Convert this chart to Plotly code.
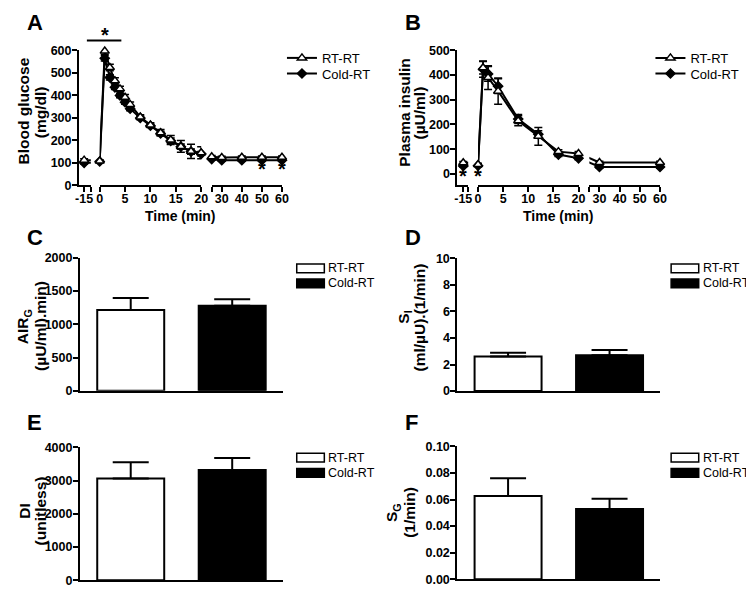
import plotly.graph_objects as go

W, H = 754, 593
OFF = 8                     # page margin of the html body
FW, FH = W - OFF, H - OFF   # figure size that fits in the window
FONT = "Liberation Sans, Arial, sans-serif"


def px(x):
    """Horizontal window pixel -> paper fraction."""
    return (x - OFF) / FW


def py(y):
    """Vertical window pixel (from top) -> paper fraction."""
    return 1 - (y - OFF) / FH


# Panel A: blood glucose (mg/dl)
glu_time = [-15, 0, 1, 2, 3, 4, 5, 6, 8, 10, 12, 14, 16, 18, 20, 25, 30, 40, 50, 60]
glu_rt = [112, 108, 597, 524, 465, 429, 392, 360, 304, 268, 234, 202, 173, 151, 145, 127, 124, 125, 125, 125]
glu_rt_err = [6, 5, 14, 14, 13, 12, 12, 11, 10, 10, 14, 20, 26, 32, 27, 6, 5, 5, 5, 5]
glu_cold = [100, 106, 565, 480, 436, 400, 370, 341, 300, 265, 231, 198, 172, 150, 140, 117, 112, 112, 112, 112]
glu_cold_err = [5, 5, 12, 12, 10, 10, 9, 9, 8, 8, 10, 12, 12, 12, 10, 5, 5, 5, 5, 5]

# Panel B: plasma insulin (uU/ml)
ins_time = [-15, 0, 1, 2, 4, 8, 12, 16, 20, 30, 60]
ins_rt = [45, 38, 430, 390, 335, 215, 152, 90, 82, 46, 46]
ins_rt_err = [5, 5, 25, 48, 53, 20, 36, 8, 8, 5, 5]
ins_cold = [32, 33, 424, 405, 355, 222, 160, 78, 63, 28, 28]
ins_cold_err = [4, 5, 33, 30, 30, 18, 15, 8, 6, 4, 4]

# Panels C-F: minimal model parameters
groups = ["RT-RT", "Cold-RT"]
air_g = [1215, 1280]
air_g_err = [180, 95]
s_i = [2.6, 2.69]
s_i_err = [0.29, 0.4]
di = [3066, 3322]
di_err = [490, 355]
s_g = [0.0627, 0.0529]
s_g_err = [0.0133, 0.0076]

fig = go.Figure()

axis_common = dict(
    showline=True, linecolor="black", linewidth=2, showgrid=False, zeroline=False,
    ticks="outside", ticklen=5, tickwidth=2, tickcolor="black",
    tickfont=dict(family=FONT, size=12.5, color="black", weight="bold"),
)

# broken time axes: (axis id, range, pixel domain, labelled ticks, end caps)
time_panels = [
    dict(y="y", legends=("legend", "legend2"), legx=282, legy=(52, 68), segs=[
        ("x", [-16, -13.7], [76, 88], [-15], [-13.7]),
        ("x2", [0, 20], [97, 200], [0, 5, 10, 15, 20], []),
        ("x3", [25, 60], [210.7, 282], [30, 40, 50, 60], [25]),
    ], series=[
        ("Cold-RT", glu_time, glu_cold, glu_cold_err, "diamond", "black", 7),
        ("RT-RT", glu_time, glu_rt, glu_rt_err, "triangle-up", "white", 8),
    ]),
    dict(y="y2", legends=("legend3", "legend4"), legx=656, legy=(52, 68), segs=[
        ("x4", [-16.2, -14], [460, 471], [-15], [-14]),
        ("x5", [0, 20], [481, 583], [0, 5, 10, 15, 20], []),
        ("x6", [25, 60], [594, 665.7], [30, 40, 50, 60], [25]),
    ], series=[
        ("Cold-RT", ins_time, ins_cold, ins_cold_err, "diamond", "black", 7),
        ("RT-RT", ins_time, ins_rt, ins_rt_err, "triangle-up", "white", 8),
    ]),
]


def seg_of(t, segs):
    for i, s in enumerate(segs):
        if s[1][0] <= t <= s[1][1]:
            return i
    return None


layout = dict(
    width=FW, height=FH, margin=dict(l=0, r=0, t=0, b=0),
    paper_bgcolor="white", plot_bgcolor="white", barmode="overlay",
    font=dict(family=FONT, color="black"),
)
leg_style = dict(bgcolor="rgba(0,0,0,0)", font=dict(family=FONT, size=13, color="black"),
                 xanchor="left", yanchor="middle", borderwidth=0, itemwidth=30)

for panel in time_panels:
    segs = panel["segs"]
    yname = panel["y"]
    for name, t, v, e, sym, fill, size in panel["series"]:
        leg = panel["legends"][0] if name == "RT-RT" else panel["legends"][1]
        # lines crossing an axis break: drawn in both segments, clipped by the axes
        for i in range(len(t) - 1):
            a, b = seg_of(t[i], segs), seg_of(t[i + 1], segs)
            if a != b:
                for k in (a, b):
                    fig.add_trace(go.Scatter(
                        x=[t[i], t[i + 1]], y=[v[i], v[i + 1]], mode="lines",
                        line=dict(color="black", width=2), xaxis=segs[k][0], yaxis=yname,
                        showlegend=False, hoverinfo="skip"))
        for k, seg in enumerate(segs):
            idx = [i for i in range(len(t)) if seg_of(t[i], segs) == k]
            fig.add_trace(go.Scatter(
                x=[t[i] for i in idx], y=[v[i] for i in idx], mode="lines+markers",
                name=name, legend=leg, showlegend=(k == 1),
                line=dict(color="black", width=2),
                marker=dict(symbol=sym, size=size, color=fill, line=dict(color="black", width=1.5)),
                error_y=dict(type="data", array=[e[i] for i in idx], color="black", thickness=1.5, width=4),
                cliponaxis=False, xaxis=seg[0], yaxis=yname))
    layout[panel["legends"][0]] = dict(leg_style, x=px(panel["legx"]), y=py(panel["legy"][0]))
    layout[panel["legends"][1]] = dict(leg_style, x=px(panel["legx"]), y=py(panel["legy"][1]))

for panel, ydom, yrange, ytick in [
    (time_panels[0], [182.5, 44.3], [0, 600], list(range(0, 601, 100))),
    (time_panels[1], [182.1, 44.3], [-45, 500], list(range(0, 501, 100))),
]:
    segs = panel["segs"]
    yid = "yaxis" + panel["y"][1:]
    layout[yid] = dict(axis_common, domain=[py(ydom[0]), py(ydom[1])], range=yrange,
                       tickvals=ytick, anchor=segs[0][0], ticklabelstandoff=-2)
    for xname, xr, xdom, tv, caps in segs:
        layout["xaxis" + xname[1:]] = dict(
            axis_common, domain=[px(xdom[0]), px(xdom[1])], range=xr, tickvals=tv,
            ticktext=[str(v) for v in tv],   # plain hyphen for "-15"
            anchor=panel["y"], ticklabelstandoff=-4,
            minor=dict(tickmode="array", tickvals=caps, ticks="outside", ticklen=5,
                       tickwidth=2, tickcolor="black", showgrid=False))

# bar panels
shapes = []
ann = []
bar_panels = [
    ("x7", "y3", air_g, air_g_err, [77, 283], [393, 256.7], [0, 2000], 500, None, (296, 267.5, 283)),
    ("x8", "y4", s_i, s_i_err, [460, 666], [393.3, 257.3], [0, 10], 2, None, (676, 267.5, 283)),
    ("x9", "y5", di, di_err, [77, 283], [587, 451], [0, 4000], 1000, None, (296, 461.5, 477)),
    ("x10", "y6", s_g, s_g_err, [460, 666], [586, 450], [0, 0.1], 0.02, ".2f", (676, 461.5, 477)),
]
for xname, yname, vals, errs, xdom, ydom, yrange, dt, fmt, lg in bar_panels:
    for j, (g, v, e, col) in enumerate(zip(groups, vals, errs, ["white", "black"])):
        fig.add_trace(go.Bar(
            x=[g], y=[v], name=g, showlegend=False, width=0.66,
            marker=dict(color=col, line=dict(color="black", width=2)),
            error_y=dict(type="data", array=[e], arrayminus=[0], symmetric=False,
                         color="black", thickness=2, width=18),
            xaxis=xname, yaxis=yname))
        # legend swatch and label
        lx, ly = lg[0], lg[1 + j]
        shapes.append(dict(type="rect", xref="paper", yref="paper",
                           x0=px(lx + 1), x1=px(lx + 29), y0=py(ly - 4.5), y1=py(ly + 4.5),
                           fillcolor=col, line=dict(color="black", width=1.5)))
        ann.append(dict(text=g, x=px(lx + 31), y=py(ly), xanchor="left", yanchor="middle",
                        font=dict(family=FONT, size=12.5, color="black")))
    layout["xaxis" + xname[1:]] = dict(axis_common, domain=[px(xdom[0]), px(xdom[1])],
                                       range=[-0.5, 1.5], ticks="", showticklabels=False,
                                       type="category", categoryorder="array",
                                       categoryarray=groups, anchor=yname)
    layout["yaxis" + yname[1:]] = dict(axis_common, domain=[py(ydom[0]), py(ydom[1])],
                                       range=yrange, dtick=dt, tick0=0, anchor=xname,
                                       tickformat=fmt, ticklabelstandoff=-2)

fig.update_layout(**layout)

bold = dict(family=FONT, color="black", weight="bold")
for letter, x, y in [("A", 21, 16), ("B", 405, 16), ("C", 21, 236), ("D", 405, 236),
                     ("E", 21, 426), ("F", 405, 426)]:
    ann.append(dict(text=letter, x=px(x), y=py(y), xanchor="left", yanchor="middle",
                    font=dict(bold, size=22)))
# y-axis titles, one annotation per line: (text, x centre, y centre)
for txt, x, y in [
    ("Blood glucose", 20, 106), ("(mg/dl)", 37, 108),
    ("Plasma insulin", 406, 108), ("(µU/ml)", 422, 108),
    ("AIR<sub>G</sub>", 20, 327), ("(µU/ml).min)", 37, 327),
    ("S<sub>I</sub>", 406, 318), ("(ml/µU).(1/min)", 422, 318),
    ("DI", 21, 516), ("(unitless)", 37, 516),
    ("S<sub>G</sub>", 395, 518), ("(1/min)", 412, 518),
]:
    ann.append(dict(text=txt, x=px(x), y=py(y), textangle=-90, xanchor="center",
                    yanchor="middle", font=dict(bold, size=15.5)))
for x in (179, 563):
    ann.append(dict(text="Time (min)", x=px(x), y=py(214), xanchor="center", yanchor="middle",
                    font=dict(bold, size=14)))
# significance marks
ann.append(dict(text="*", x=px(102), y=py(29), xanchor="center", yanchor="middle",
                font=dict(bold, size=20)))
for xa, ya, xv, yv in [("x3", "y", 50, 72), ("x3", "y", 60, 72), ("x4", "y2", -15, -10),
                       ("x5", "y2", 0, -10)]:
    ann.append(dict(text="*", x=xv, y=yv, xref=xa, yref=ya, xanchor="center", yanchor="middle",
                    font=dict(bold, size=20)))
for a in ann:
    a.setdefault("xref", "paper")
    a.setdefault("yref", "paper")
    a["showarrow"] = False
shapes.append(dict(type="line", xref="paper", yref="paper", x0=px(84), x1=px(119),
                   y0=py(34), y1=py(34), line=dict(color="black", width=2)))
fig.update_layout(annotations=ann, shapes=shapes)

fig.write_html("out.html")
